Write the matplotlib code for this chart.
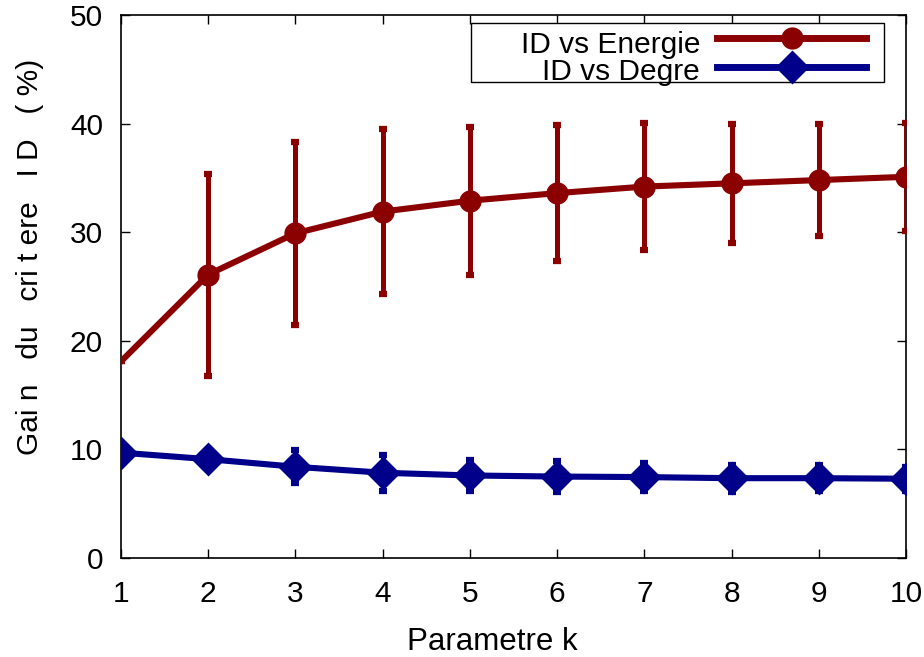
import matplotlib
matplotlib.use("Agg")
import matplotlib.pyplot as plt
from matplotlib.patches import Rectangle
from matplotlib.lines import Line2D

plt.rcParams['font.family'] = ['Liberation Sans', 'DejaVu Sans']

k = [1, 2, 3, 4, 5, 6, 7, 8, 9, 10]
energie = [18.1, 26.1, 29.9, 31.9, 32.9, 33.6, 34.2, 34.5, 34.8, 35.1]
energie_err = [0.0, 9.3, 8.45, 7.6, 6.8, 6.25, 5.85, 5.5, 5.15, 5.0]
degre = [9.7, 9.1, 8.4, 7.85, 7.6, 7.5, 7.45, 7.35, 7.35, 7.3]
degre_err = [0.4, 0.7, 1.5, 1.65, 1.45, 1.4, 1.3, 1.25, 1.2, 1.1]
labels = ['ID vs Energie', 'ID vs Degre']

xticks = list(range(1, 11))
yticks = [0, 10, 20, 30, 40, 50]

red = '#8b0000'
blue = '#00008b'
FS = 21.5

fig = plt.figure(figsize=(9.24, 6.57), dpi=100)
ax = fig.add_axes([121/924, 1-558/657, (906-121)/924, (558-15)/657])

# Energie series
ax.errorbar(k, energie, yerr=energie_err, fmt='none', ecolor=red,
            elinewidth=3.6, capsize=2.8, capthick=4.5, zorder=3)
ax.plot(k, energie, color=red, lw=4.4, solid_capstyle='butt', zorder=4)
ax.plot(k[1:], energie[1:], linestyle='none', marker='o', markersize=15,
        color=red, zorder=5)
ax.plot(k[:1], energie[:1], linestyle='none', marker='o', markersize=3,
        color=red, zorder=5)
# Degre series
ax.errorbar(k, degre, yerr=degre_err, fmt='none', ecolor=blue,
            elinewidth=3.6, capsize=2.8, capthick=4.5, zorder=3)
ax.plot(k, degre, color=blue, lw=4.4, marker='D', markersize=15,
        markeredgewidth=2, markeredgecolor=blue, zorder=4)

# legend (gnuplot-style key, drawn in axes coordinates)
T = ax.transAxes
ax.add_patch(Rectangle((0.4459, 0.8766), 0.9720-0.4459, 0.9853-0.8766,
                       transform=T, fill=True, facecolor='white',
                       edgecolor='black', lw=1.0, zorder=6, clip_on=False))
ax.text(0.7376, 0.9295, labels[0], transform=T, ha='right', va='baseline',
        fontsize=FS, zorder=7)
ax.text(0.7376, 0.8803, labels[1], transform=T, ha='right', va='baseline',
        fontsize=FS, zorder=7)
ax.add_line(Line2D([0.7592, 0.9490], [0.9576, 0.9576], transform=T,
                   color=red, lw=5, zorder=7, clip_on=False))
ax.add_line(Line2D([0.8548], [0.9576], transform=T, color=red, marker='o',
                   markersize=15, zorder=8, clip_on=False))
ax.add_line(Line2D([0.7592, 0.9490], [0.9048, 0.9048], transform=T,
                   color=blue, lw=5, zorder=7, clip_on=False))
ax.add_line(Line2D([0.8548], [0.9048], transform=T, color=blue, marker='D',
                   markersize=15, markeredgewidth=2, zorder=8, clip_on=False))

ax.set_xlim(1, 10)
ax.set_ylim(0, 50)
ax.set_xticks(xticks)
ax.set_yticks(yticks)
ax.tick_params(direction='in', length=6.5, width=1, top=True, right=True,
               labelsize=FS)
ax.tick_params(axis='x', pad=16)
ax.tick_params(axis='y', pad=13)
for s in ax.spines.values():
    s.set_linewidth(1.2)

ax.set_xlabel('Parametre k', fontsize=22.5)
ax.xaxis.set_label_coords(0.473, -0.127)
ax.set_ylabel('Gai n   du   cri t ere   I D   ( %)', fontsize=FS)
ax.yaxis.set_label_coords(-0.098, 0.554)

fig.savefig('out.png', dpi=100)
